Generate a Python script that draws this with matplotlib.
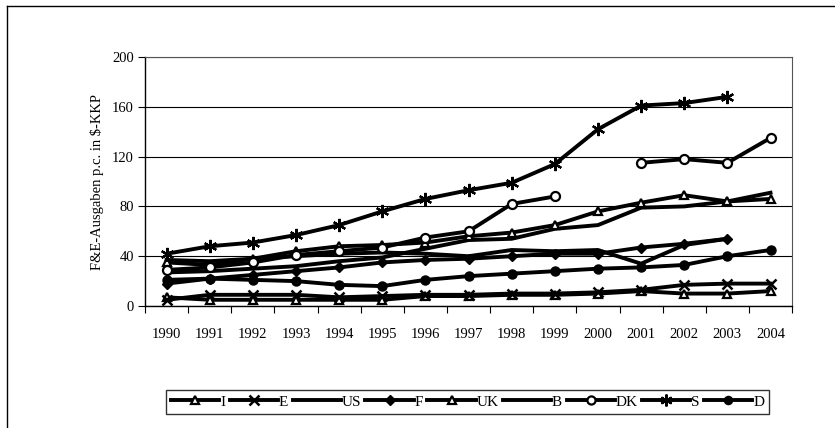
import numpy as np
import matplotlib
matplotlib.use("Agg")
import matplotlib.pyplot as plt
from matplotlib.lines import Line2D

plt.rcParams['font.family'] = ['Liberation Serif', 'DejaVu Serif']

nan = np.nan
years = ['1990', '1991', '1992', '1993', '1994', '1995', '1996', '1997',
         '1998', '1999', '2000', '2001', '2002', '2003', '2004']

I_vals = [7, 5, 5, 5, 5, 5, 8, 8, 9, 9, 10, 12, 10, 10, 12]
E_vals = [5, 9, 9, 9, 7, 8, 9, 9, 10, 10, 11, 13, 17, 18, 18]
US_vals = [27, 28, 30, 32, 36, 39, 46, 53, 54, 62, 65, 79, 80, 84, 91]
F_vals = [18, 22, 25, 28, 31, 35, 37, 38, 40, 42, 42, 47, 50, 54, nan]
UK_vals = [35, 33, 38, 44, 48, 49, 51, 56, 59, 65, 76, 83, 89, 84, 86]
B_vals = [37, 36, 38, 40, 42, 43, 42, 40, 45, 44, 45, 34, 49, 54, nan]
DK_vals = [29, 31, 35, 41, 44, 47, 55, 60, 82, 88, nan, 115, 118, 115, 135]
S_vals = [42, 48, 51, 57, 65, 76, 86, 93, 99, 114, 142, 161, 163, 168, nan]
D_vals = [21, 22, 21, 20, 17, 16, 21, 24, 26, 28, 30, 31, 33, 40, 45]

series = [
    ('I', I_vals, dict(marker='^', mfc='white', ms=6, mew=1.6)),
    ('E', E_vals, dict(marker='x', ms=7.5, mew=1.8)),
    ('US', US_vals, dict(marker='None')),
    ('F', F_vals, dict(marker='D', ms=5.5)),
    ('UK', UK_vals, dict(marker='^', mfc='white', ms=6, mew=1.6)),
    ('B', B_vals, dict(marker='None')),
    ('DK', DK_vals, dict(marker='o', mfc='white', ms=6.5, mew=1.6)),
    ('S', S_vals, dict(marker=(6, 2, 0), ms=9.5, mew=1.6)),
    ('D', D_vals, dict(marker='o', ms=6.5)),
]

fig = plt.figure(figsize=(8.35, 4.28), dpi=100)
ax = fig.add_axes([0.1737, 0.285, 0.7749, 0.5818])

x = np.arange(len(years))
for name, vals, style in series:
    ax.plot(x, vals, color='black', lw=2.8, mec='black', label=name,
            clip_on=False, zorder=3, **style)

ax.set_xlim(-0.5, len(years) - 0.5)
ax.set_ylim(0, 200)
ax.set_yticks([0, 40, 80, 120, 160, 200])
ax.yaxis.grid(True, color='black', lw=0.8)
ax.set_axisbelow(True)

ax.set_xticks(x)
ax.set_xticklabels(years)
ax.set_xticks(np.arange(-0.5, len(years)), minor=True)
ax.tick_params(axis='x', which='major', length=0, pad=16, labelsize=10.5)
ax.tick_params(axis='x', which='minor', length=5, width=0.8, direction='out')
ax.tick_params(axis='y', length=5, width=0.8, pad=3, labelsize=10.5)

for side in ['top', 'right']:
    ax.spines[side].set_color('#555555')
    ax.spines[side].set_linewidth(0.8)
for side in ['left', 'bottom']:
    ax.spines[side].set_linewidth(1.0)

ax.set_ylabel('F&E-Ausgaben p.c. in $-KKP', fontsize=10.5, labelpad=6)

leg = fig.legend(loc='center', bbox_to_anchor=(0.56, 0.061), ncol=9,
                 fontsize=11, frameon=True, fancybox=False, edgecolor='black',
                 handlelength=3.15, handletextpad=0.05, columnspacing=0.3,
                 borderpad=0.35, borderaxespad=0, markerscale=0.9)
leg.get_frame().set_linewidth(1.0)

# outer chart frame (only left and top edges are visible in the crop)
fig.add_artist(Line2D([7 / 835, 7 / 835], [0, 1 - 6 / 428],
                      transform=fig.transFigure, color='black', lw=1.0))
fig.add_artist(Line2D([7 / 835, 1], [1 - 6 / 428, 1 - 6 / 428],
                      transform=fig.transFigure, color='black', lw=1.0))

fig.savefig('out.png', dpi=100)
